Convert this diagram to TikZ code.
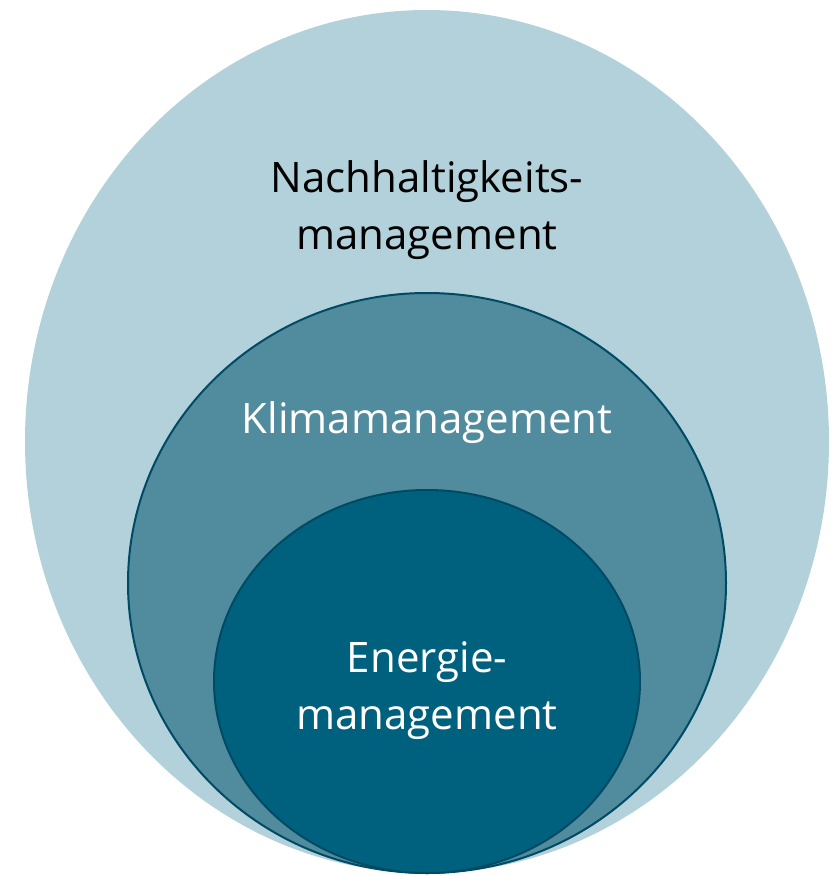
\documentclass[tikz,border=0pt]{standalone}
\usepackage{fontspec}
\setmainfont{Open Sans}
\definecolor{outerfill}{HTML}{B2D1DA}
\definecolor{midfill}{HTML}{518B9E}
\definecolor{innerfill}{HTML}{00617F}
\definecolor{ringline}{HTML}{004A63}
\begin{document}
\begin{tikzpicture}[x=1pt,y=-1pt,
  ring/.style={draw=ringline,line width=2pt},
  label/.style={font=\fontsize{42}{57}\selectfont,align=center,inner sep=0pt}]
  \useasboundingbox (0,0) rectangle (833,876);
  \begin{scope}
    \clip (0,0) rectangle (833,876);
    % nested scopes: sustainability > climate > energy
    \fill[outerfill] (427,441.5) ellipse [x radius=402, y radius=431.5];
    \draw[ring,fill=midfill] (427,583) ellipse [x radius=299, y radius=290];
    \draw[ring,fill=innerfill] (427,681.5) ellipse [x radius=213, y radius=191.5];
  \end{scope}
  % anchor=base sits on the baseline of the last line
  \node[label,text=black,anchor=base] (nh) at (427,249) {Nachhaltigkeits-\\management};
  \node[label,text=white,anchor=base] (km) at (427,433) {Klimamanagement};
  \node[label,text=white,anchor=base] (em) at (427,729) {Energie-\\management};
\end{tikzpicture}
\end{document}
